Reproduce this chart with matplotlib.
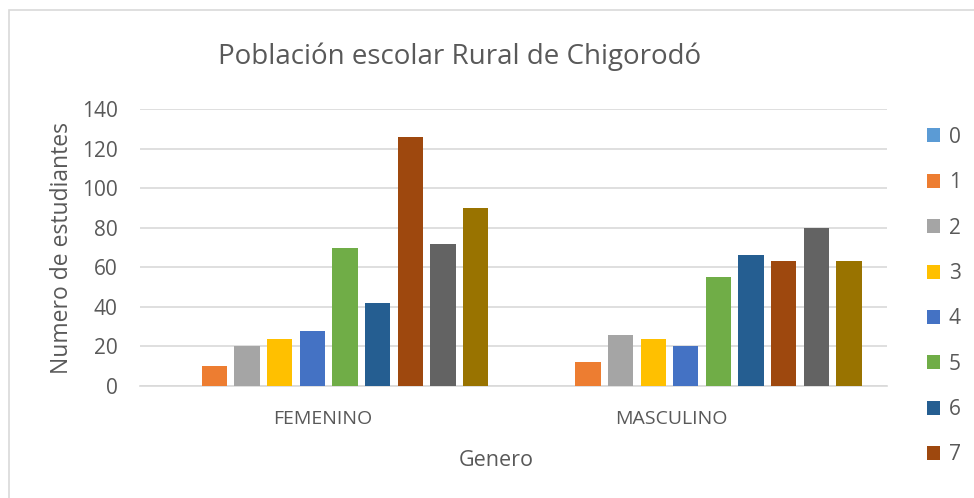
import numpy as np
import matplotlib

matplotlib.use("Agg")
import matplotlib.pyplot as plt  # noqa: E402
from matplotlib.patches import Rectangle, Patch  # noqa: E402

plt.rcParams["font.family"] = ["Open Sans", "DejaVu Sans"]

TITLE = "Población escolar Rural de Chigorodó"
categories = ["FEMENINO", "MASCULINO"]
series_names = ["0", "1", "2", "3", "4", "5", "6", "7", "8", "9"]
femenino = [0, 10, 20, 24, 28, 70, 42, 126, 72, 90]
masculino = [0, 12, 26, 24, 20, 55, 66, 63, 80, 63]
colors = ["#5B9BD5", "#ED7D31", "#A5A5A5", "#FFC000", "#4472C4",
          "#70AD47", "#255E91", "#9E480E", "#636363", "#997300"]

TEXT = "#595959"
GRID = "#D9D9D9"

fig = plt.figure(figsize=(9.74, 4.98), dpi=100)
# chart frame, cut off on the right and bottom like the screenshot
fig.patches.append(Rectangle((9 / 974, -0.1), 1.2, 1.1 - 10 / 498, transform=fig.transFigure,
                             fill=False, edgecolor=GRID, linewidth=1.2))

ax = fig.add_axes([140 / 974, 1 - 386 / 498, 747 / 974, 277 / 498])
values = np.array([femenino, masculino])
x = np.arange(len(categories))
pitch = 0.0874
width = 0.0677
for i, name in enumerate(series_names):
    ax.bar(x + (i - 4.5) * pitch + 0.005, values[:, i], width, color=colors[i],
           label=name, zorder=3)

ax.set_xlim(-0.5, 1.5)
ax.set_ylim(0, 140)
ax.set_yticks(range(0, 141, 20))
ax.yaxis.grid(True, color=GRID, linewidth=1.2, zorder=0)
# category labels sit slightly left of the bar groups in the original
ax.set_xticks(x + np.array([-0.01, -0.078]))
ax.set_xticklabels(categories)
for s in ["top", "right", "left"]:
    ax.spines[s].set_visible(False)
ax.spines["bottom"].set_color(GRID)
ax.spines["bottom"].set_linewidth(1.2)
ax.tick_params(axis="both", length=0, colors=TEXT)
ax.tick_params(axis="y", labelsize=15, pad=16)
ax.tick_params(axis="x", labelsize=14, pad=17)

ax.set_ylabel("Numero de estudiantes", fontsize=16.5, color=TEXT, labelpad=6)
ax.set_xlabel("Genero", fontsize=15.5, color=TEXT, labelpad=16)
ax.xaxis.set_label_coords(0.477, -0.23)
fig.text(460 / 974, 1 - 57 / 498, TITLE, ha="center", va="center", fontsize=20, color=TEXT)

handles = [Patch(facecolor=colors[i], label=series_names[i]) for i in range(8)]
fig.legend(handles=handles, loc="upper left", bbox_to_anchor=(908 / 974, 1 - 108 / 498),
           frameon=False, fontsize=15, labelcolor=TEXT, handlelength=0.65,
           handleheight=0.65, handletextpad=0.4, labelspacing=1.17)

fig.savefig("out.png", dpi=100)
